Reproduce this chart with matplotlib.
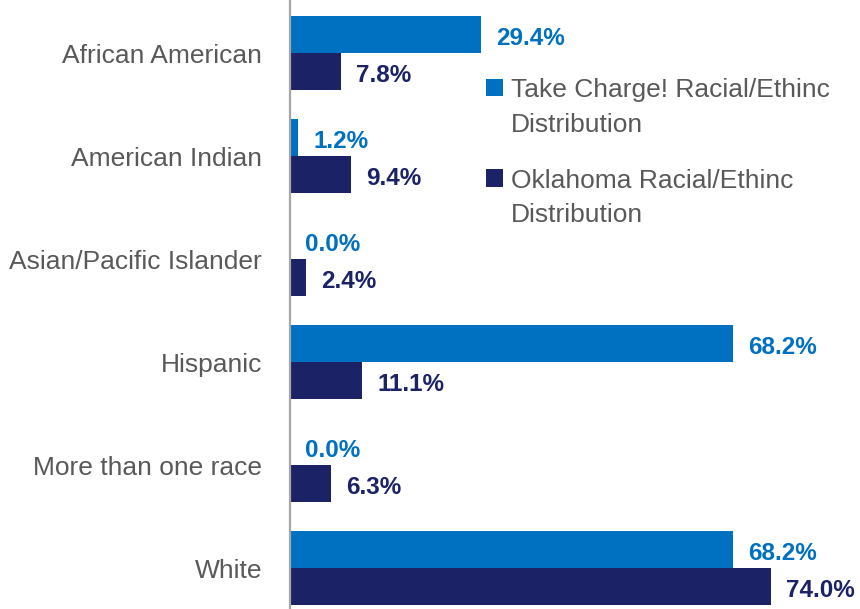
import matplotlib
matplotlib.use("Agg")
import matplotlib.pyplot as plt
from matplotlib.patches import Rectangle
from matplotlib.legend_handler import HandlerPatch
import numpy as np

categories = ["African American", "American Indian", "Asian/Pacific Islander",
              "Hispanic", "More than one race", "White"]
take_charge = [29.4, 1.2, 0.0, 68.2, 0.0, 68.2]
oklahoma = [7.8, 9.4, 2.4, 11.1, 6.3, 74.0]
series_names = ["Take Charge! Racial/Ethinc\nDistribution",
                "Oklahoma Racial/Ethinc\nDistribution"]

FAM = "Liberation Sans"
BLUE = "#0070C0"
NAVY = "#1B2266"
GRAY = "#595959"

fig = plt.figure(figsize=(8.6, 6.09), dpi=100)
ax = fig.add_axes([290 / 860, 0, 1 - 290 / 860, 1])

y = np.arange(len(categories))
h = 0.36
b1 = ax.barh(y - h / 2, take_charge, height=h, color=BLUE, label=series_names[0])
b2 = ax.barh(y + h / 2, oklahoma, height=h, color=NAVY, label=series_names[1])

ax.set_xlim(0, (860 - 290) / 6.5)
ax.set_ylim(5.398, -0.515)

for yi, v in zip(y, take_charge):
    ax.annotate(f"{v:.1f}%", (v, yi - h / 2), xytext=(11, -1), textcoords="offset points",
                va="center_baseline", ha="left", color=BLUE, fontsize=17.5,
                fontweight="bold", family=FAM)
for yi, v in zip(y, oklahoma):
    ax.annotate(f"{v:.1f}%", (v, yi + h / 2), xytext=(11, -1), textcoords="offset points",
                va="center_baseline", ha="left", color=NAVY, fontsize=17.5,
                fontweight="bold", family=FAM)

ax.set_yticks(y)
ax.set_yticklabels(categories, family=FAM, fontsize=19, color=GRAY)
ax.tick_params(axis="y", length=0, pad=20)
ax.set_xticks([])
for s in ["top", "right", "bottom"]:
    ax.spines[s].set_visible(False)
ax.spines["left"].set_color("#A6A6A6")
ax.spines["left"].set_linewidth(1.6)

SHIFT = 14.5  # points: lift the square to the first text line


def square(legend, orig_handle, xdescent, ydescent, width, height, fontsize):
    return Rectangle((-xdescent, -ydescent + SHIFT), width, height)


handler = HandlerPatch(patch_func=square)
leg = ax.legend([b1.patches[0], b2.patches[0]], series_names,
                loc="upper left", bbox_to_anchor=(486 / 860, 1 - 78 / 609),
                bbox_transform=fig.transFigure, frameon=False,
                prop={"family": FAM, "size": 19}, handlelength=0.65, handleheight=0.65,
                handletextpad=0.3, labelspacing=1.22, borderpad=0, borderaxespad=0,
                handler_map={Rectangle: handler})
for t in leg.get_texts():
    t.set_color(GRAY)
    t.set_linespacing(1.56)

fig.savefig("out.png", dpi=100)
